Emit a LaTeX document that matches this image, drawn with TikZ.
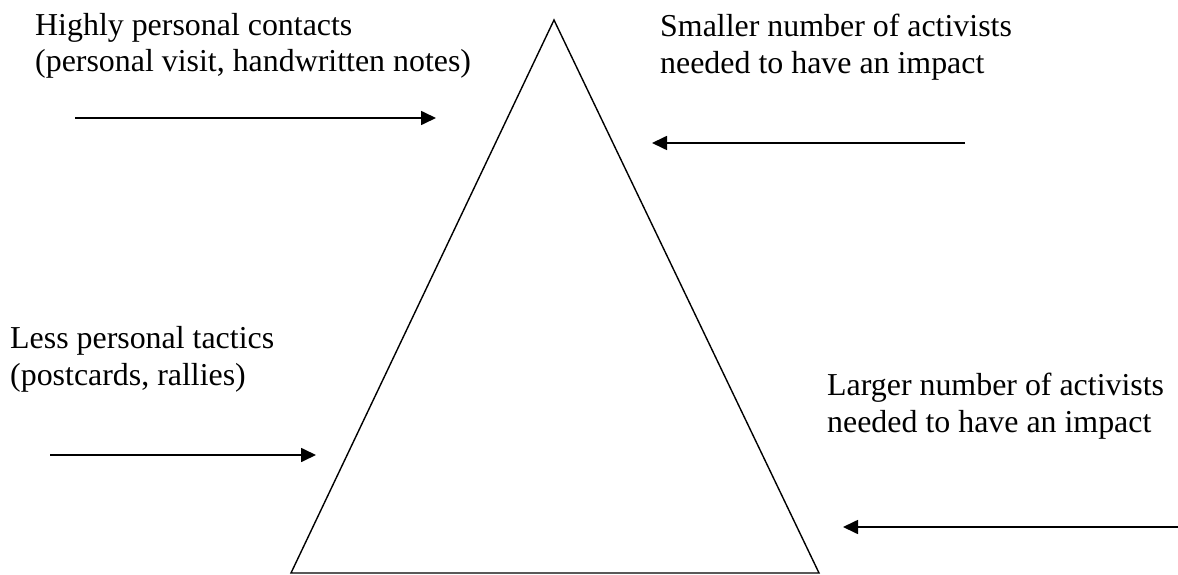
\documentclass[tikz,border=0pt]{standalone}
\usepackage{fontspec}
\setmainfont{Liberation Serif}
\usetikzlibrary{arrows.meta}
\tikzset{
  lbl/.style={anchor=base west, inner sep=0pt, align=left, font=\fontsize{31.9}{36.5}\selectfont},
  pointer/.style={line width=1.7pt, -{Triangle[length=15pt,width=14pt]}},
  pyramid/.style={line width=1.4pt, line join=miter}
}
\begin{document}
\begin{tikzpicture}[x=1pt,y=-1pt]
\useasboundingbox (0,0) rectangle (1178,575);
% triangle
\coordinate (apex) at (554,20);
\coordinate (bl) at (291,573);
\coordinate (br) at (819,573);
\draw[pyramid] (apex) -- (bl) -- (br) -- cycle;
% labels (anchor = baseline of last line)
\node[lbl] (t1) at (35,72) {Highly personal contacts\\(personal visit, handwritten notes)};
\node[lbl] (t2) at (660,73.5) {Smaller number of activists\\needed to have an impact};
\node[lbl] (t3) at (10,385) {Less personal tactics\\(postcards, rallies)};
\node[lbl] (t4) at (827,432) {Larger number of activists\\needed to have an impact};
% arrows
\coordinate (a1s) at (75,118);  \coordinate (a1e) at (436,118);
\coordinate (a2s) at (965,143); \coordinate (a2e) at (652,143);
\coordinate (a3s) at (50,455);  \coordinate (a3e) at (316,455);
\coordinate (a4s) at (1178,527); \coordinate (a4e) at (843,527);
\draw[pointer] (a1s) -- (a1e);
\draw[pointer] (a2s) -- (a2e);
\draw[pointer] (a3s) -- (a3e);
\draw[pointer] (a4s) -- (a4e);
\end{tikzpicture}
\end{document}
